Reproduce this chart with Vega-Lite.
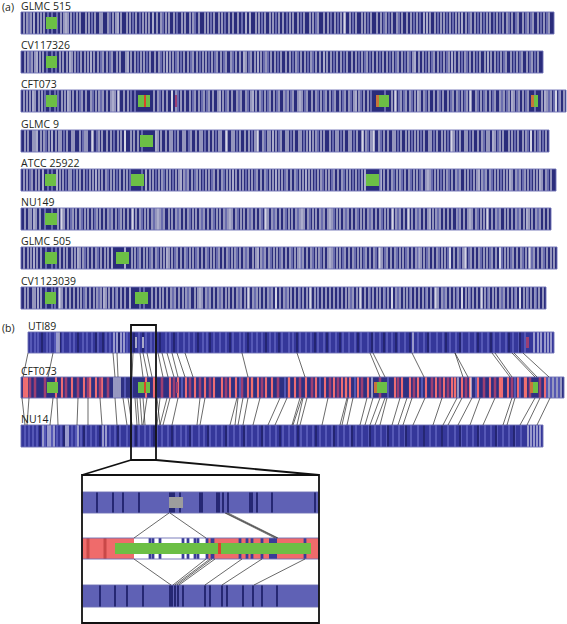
{
"$schema":"https://vega.github.io/schema/vega-lite/v6.json",
"width":567,"height":624,"padding":0,
"autosize":{"type":"fit","contains":"padding"},
"config":{"view":{"stroke":null}},
"datasets":{
"tracks":[
{"g":"a1","label":"GLMC 515","x0":21,"x1":554,"y0":12,"y1":34,"k":"base_a"},
{"g":"a2","label":"CV117326","x0":21,"x1":543,"y0":51,"y1":73,"k":"base_a"},
{"g":"a3","label":"CFT073","x0":21,"x1":566,"y0":90,"y1":112,"k":"base_a"},
{"g":"a4","label":"GLMC 9","x0":21,"x1":549,"y0":130,"y1":152,"k":"base_a"},
{"g":"a5","label":"ATCC 25922","x0":21,"x1":556,"y0":169,"y1":191,"k":"base_a"},
{"g":"a6","label":"NU149","x0":21,"x1":551,"y0":208,"y1":230,"k":"base_a"},
{"g":"a7","label":"GLMC 505","x0":21,"x1":557,"y0":247,"y1":269,"k":"base_a"},
{"g":"a8","label":"CV1123039","x0":21,"x1":546,"y0":287,"y1":309,"k":"base_a"},
{"g":"b1","label":"UTI89","x0":28,"x1":554,"y0":332,"y1":353,"k":"base_b"},
{"g":"b2","label":"CFT073","x0":21,"x1":564,"y0":377,"y1":398,"k":"base_c"},
{"g":"b3","label":"NU14","x0":21,"x1":543,"y0":425,"y1":447,"k":"base_b"},
{"g":"i1","x0":82,"x1":319,"y0":492,"y1":513,"k":"base_i"},
{"g":"i2","x0":82,"x1":319,"y0":538,"y1":559,"k":"base_r"},
{"g":"i3","x0":82,"x1":319,"y0":585,"y1":607,"k":"base_i"}
],
"regions":[
{"g":"i2","k":"w","s":134,"e":206},
{"g":"i2","k":"N","s":269,"e":277}
],
"stripes":[
{"g":"a1","k":"w","x":[24,27,31,38,41,44,61,64,68,71,77,80,86,89,95,100,102,108,113,116,121,127,130,136,143,146,149,157,161,166,169,174,182,185,190,193,199,205,208,214,219,222,229,233,238,256,259,265,270,273,279,283,290,293,298,304,310,313,318,324,328,335,341,344,350,356,362,365,371,377,381,386,392,397,402,407,411,417,430,435,441,444,450,456,459,466,471,475,481,487,490,497,503,507,512,518,523,528,533,538,544,549]},
{"g":"a1","k":"W","x":[34,66,118,153,246,250,345,424,427,462]},
{"g":"a1","k":"L","x":[29,48,52,57,74,92,110,133,140,163,177,195,211,225,242,262,276,287,301,316,331,338,353,368,384,389,399,414,420,438,447,453,469,478,484,494,500,509,516,526,531,541,547]},
{"g":"a2","k":"w","x":[25,28,32,35,40,43,60,63,67,72,75,81,85,88,94,98,103,107,112,117,120,126,131,135,141,144,150,155,159,164,170,173,178,184,188,193,197,203,206,212,217,221,226,231,236,240,246,251,255,261,266,271,275,281,286,290,296,301,305,311,316,320,327,331,337,341,347,352,356,362,367,373,377,383,387,393,398,402,408,413,419,423,429,434,438,444,449,455,459,465,470,474,480,485,491,495,501,506,511,517,522,527,532,538]},
{"g":"a2","k":"W","x":[37,70,91,128,167,244,258,324,415,452,488]},
{"g":"a2","k":"L","x":[30,47,52,56,78,101,110,138,147,161,176,181,191,200,209,215,224,233,249,264,268,278,293,298,308,313,334,344,359,365,370,380,390,396,405,410,426,432,441,447,462,467,477,498,504,514,520,530,535]},
{"g":"a3","k":"w","x":[24,27,30,35,39,42,62,65,70,73,77,82,86,91,96,99,103,107,111,115,119,124,128,154,158,163,167,172,176,181,185,190,195,199,204,209,213,218,223,228,232,237,241,246,251,256,260,265,270,274,279,284,288,293,298,302,307,312,316,321,326,330,335,340,345,349,354,359,364,368,392,396,401,406,410,415,420,424,429,434,438,443,448,453,457,462,467,471,476,481,486,490,495,500,504,509,514,519,523,528,542,547,551,556,560,564]},
{"g":"a3","k":"W","x":[33,68,113,118,172,220,253,300,356,395,418,470,512,545,556]},
{"g":"a3","k":"L","x":[45,50,55,58,80,93,101,131,135,160,178,193,202,207,226,239,248,262,268,277,286,291,305,318,324,333,343,351,361,371,385,399,404,412,426,440,451,459,465,478,484,493,502,507,517,526,535,549,554,559]},
{"g":"a4","k":"w","x":[25,28,33,35,41,44,49,56,59,61,67,72,74,80,85,87,93,99,102,107,111,118,121,125,131,134,138,158,161,166,170,172,178,183,185,191,196,200,202,209,213,219,221,227,232,234,240,245,249,255,257,263,268,270,276,281,286,288,294,299,301,307,313,316,321,324,330,336,338,344,349,351,357,362,366,371,373,379,384,388,393,395,401,406,409,415,418,424,429,431,437,442,445,451,454,460,465,467,473,478,482,487,489,495,500,503,509,512,518,523,526,531,535,540,546]},
{"g":"a4","k":"W","x":[37,52,92,125,156,226,258,273,310,363,374,452,493,531]},
{"g":"a4","k":"L","x":[46,64,83,97,114,142,175,189,205,216,237,252,265,279,291,304,318,333,341,354,368,381,398,412,421,434,448,457,470,484,498,515,528,538,543]},
{"g":"a5","k":"w","x":[24,27,32,36,39,60,63,69,71,77,80,84,90,93,99,102,106,111,114,120,124,127,150,153,159,162,167,170,176,179,184,188,192,197,200,206,209,214,218,222,227,230,236,240,243,249,252,257,261,265,270,273,279,282,287,291,295,300,303,309,312,318,321,326,329,334,338,342,347,350,356,362,384,388,392,397,400,405,409,414,417,422,426,430,435,438,444,447,452,456,460,465,468,474,477,482,486,490,495,498,504,507,512,516,520,525,528,534,537,542,546,551]},
{"g":"a5","k":"W","x":[43,57,96,146,181,233,276,306,365,381,428,479,510,540]},
{"g":"a5","k":"L","x":[30,48,52,66,74,87,108,117,130,142,156,164,173,186,195,203,212,224,246,255,267,285,297,315,323,332,344,353,359,380,394,402,411,420,432,441,449,458,471,484,492,501,518,523,531,548]},
{"g":"a6","k":"w","x":[25,29,31,36,40,58,61,64,68,73,76,80,85,88,92,97,100,104,108,112,116,121,124,128,132,136,140,145,148,152,156,160,164,169,172,176,180,184,188,193,196,200,204,208,212,217,220,224,228,232,236,241,244,248,252,256,260,265,268,272,276,280,284,289,292,296,300,304,308,313,316,320,324,328,332,337,340,344,348,352,356,361,364,368,372,376,380,385,388,392,396,400,404,409,412,416,420,424,428,433,436,440,444,448,452,457,460,464,468,472,476,481,484,488,492,496,500,505,508,512,516,520,524,529,532,536,540,544,548]},
{"g":"a6","k":"W","x":[34,62,133,158,230,266,302,330,393,408,430,470,487,527]},
{"g":"a6","k":"L","x":[45,52,71,82,95,110,119,142,154,162,178,190,202,214,226,238,250,262,274,286,298,310,322,334,346,358,370,382,398,418,438,458,478,498,518,538]},
{"g":"a7","k":"w","x":[24,28,31,37,41,60,64,67,72,75,80,83,88,92,96,101,105,108,132,135,140,144,147,152,156,161,164,169,172,177,181,185,190,193,198,202,206,211,214,219,223,227,232,235,240,244,248,253,256,261,265,269,274,277,282,286,290,295,298,303,307,311,316,319,324,328,332,337,340,345,349,353,358,361,366,370,374,379,382,387,391,395,400,403,408,412,416,421,424,429,433,437,442,445,450,454,458,463,466,471,475,479,484,487,492,496,500,505,508,513,517,521,526,529,534,538,542,547,551,554]},
{"g":"a7","k":"W","x":[34,78,112,125,167,258,300,330,380,419,450,465,500,530]},
{"g":"a7","k":"L","x":[46,52,56,85,98,138,150,158,175,187,196,208,217,229,237,246,263,271,280,292,301,313,321,334,343,355,364,376,385,397,406,418,427,439,448,460,469,481,490,502,511,523,532,544]},
{"g":"a8","k":"w","x":[25,28,33,35,41,59,62,66,70,74,78,81,86,90,94,97,101,106,109,113,117,121,125,152,156,160,163,167,171,175,179,183,186,190,195,198,202,206,210,214,218,222,226,229,233,237,241,245,249,253,257,260,264,268,272,276,280,284,288,291,295,299,303,307,311,315,318,322,326,330,334,338,342,346,349,353,357,361,365,369,373,377,380,384,388,392,396,400,404,407,411,415,419,423,427,431,435,438,442,446,450,454,458,462,466,469,473,477,481,485,489,493,496,500,504,508,512,516,520,524,527,531,535,539,543]},
{"g":"a8","k":"W","x":[38,60,104,130,200,248,276,310,360,392,436,462,482,520]},
{"g":"a8","k":"L","x":[46,52,55,84,99,116,140,144,173,188,208,220,239,255,270,286,300,318,338,351,370,385,398,410,426,444,457,470,488,502,515,528,536]},
{"g":"b1","k":"L2","x":[31,35,38,47,50,55,63,70,74,83,87,92,98,106,110,127,131,139,146,151,155,166,170,178,184,189,194,203,207,214,220,226,233,240,244,252,257,262,270,275,282,289,293,300,306,311,318,324,330,336,343,349,355,361,368,374,380,387,392,399,405,418,424,430,437,443,450,456,462,469,475,482,488,494,500,506,513,519,525]},
{"g":"b1","k":"D","x":[42,60,78,96,103,119,134,143,160,174,198,210,230,248,266,279,297,315,327,340,358,372,384,396,410,428,446,460,478,491,509,520]},
{"g":"b1","k":"w","x":[57,59,114,117,121,124,413,534,538,541,545,548,551]},
{"g":"b3","k":"L2","x":[25,29,33,37,45,52,57,61,72,76,81,86,91,96,110,115,120,127,133,139,145,150,157,162,168,175,181,186,192,199,204,210,216,222,228,234,240,246,252,258,264,270,276,283,289,295,301,307,313,320,326,332,338,344,350,356,362,369,375,381,387,393,399,405,411,418,424,430,436,442,448,455,461,467,473,479,485,491,497,503,509,515,521]},
{"g":"b3","k":"D","x":[40,64,84,100,118,136,154,172,190,208,226,244,262,280,298,316,334,352,370,388,406,424,442,460,478,496,514]},
{"g":"b3","k":"w","x":[43,48,50,54,66,68,78,103,106,528,531,534,537,540]},
{"g":"b2","k":"P","x":[24,26,56,62,72,84,96,102,146,154,170,178,186,195,205,214,222,230,236,248,258,266,272,295,306,316,325,334,342,350,358,368,395,402,410,418,426,436,444,452,462,470,478,490,502,508,518,526,545]},
{"g":"b2","k":"PW","x":[27,90,252,289,346,455,500,525]},
{"g":"b2","k":"R","x":[30,35,45,66,78,88,100,108,162,174,190,200,210,226,242,262,278,300,312,330,338,362,380,398,414,432,440,448,466,484,495,512,530,540]},
{"g":"b2","k":"w","x":[114,116,118,120,156,372,458,471,549,553,557,561]},
{"g":"b2","k":"L2","x":[125,132,182,240,285,320,355,388,422,476,515,520,547,551,555,559]},
{"g":"i1","k":"D","x":[97,113,123,139,170,172,174,180,200,202,217,219,223,228,250,252,257,272,315]},
{"g":"i3","k":"D","x":[100,115,127,143,170,172,175,178,183,205,210,222,227,243,253,262,277]},
{"g":"i2","k":"N","x":[150,153,160,183,188,195,198,207,212,213,240,247,252,262,305]},
{"g":"i2","k":"R2","x":[88,105]}
],
"blocks":[
{"g":"a1","k":"g","s":46,"e":57},
{"g":"a2","k":"g","s":46,"e":57},
{"g":"a3","k":"g","s":46,"e":57},{"g":"a3","k":"g","s":138,"e":150},{"g":"a3","k":"r","s":144,"e":146},{"g":"a3","k":"R","s":175,"e":177},{"g":"a3","k":"o","s":376,"e":379},{"g":"a3","k":"g","s":379,"e":389},{"g":"a3","k":"o","s":531,"e":534},{"g":"a3","k":"g","s":534,"e":538},
{"g":"a4","k":"g","s":140,"e":153},
{"g":"a5","k":"g","s":45,"e":56},{"g":"a5","k":"g","s":131,"e":144},{"g":"a5","k":"g","s":366,"e":379},
{"g":"a6","k":"g","s":45,"e":57},
{"g":"a7","k":"g","s":45,"e":57},{"g":"a7","k":"g","s":116,"e":129},
{"g":"a8","k":"g","s":45,"e":56},{"g":"a8","k":"g","s":135,"e":148},
{"g":"b1","k":"gr","s":135,"e":137},{"g":"b1","k":"gr","s":142,"e":144},{"g":"b1","k":"R","s":526,"e":529},
{"g":"b2","k":"g","s":47,"e":58},{"g":"b2","k":"g","s":138,"e":150},{"g":"b2","k":"r","s":144,"e":146},{"g":"b2","k":"R","s":176,"e":178},{"g":"b2","k":"o","s":374,"e":377},{"g":"b2","k":"g","s":377,"e":387},{"g":"b2","k":"o","s":530,"e":533},{"g":"b2","k":"g","s":533,"e":538},
{"g":"i1","k":"gray","s":169,"e":183},
{"g":"i2","k":"g","s":115,"e":311},{"g":"i2","k":"r","s":218,"e":221}
],
"links":[
{"f":"b1","t":"b2","a":28,"b":23},{"f":"b1","t":"b2","a":53,"b":48},{"f":"b1","t":"b2","a":113,"b":115},{"f":"b1","t":"b2","a":117,"b":118},{"f":"b1","t":"b2","a":133,"b":132},{"f":"b1","t":"b2","a":140,"b":143},{"f":"b1","t":"b2","a":143,"b":148},{"f":"b1","t":"b2","a":147,"b":152},{"f":"b1","t":"b2","a":158,"b":163},{"f":"b1","t":"b2","a":162,"b":168},{"f":"b1","t":"b2","a":167,"b":174},{"f":"b1","t":"b2","a":172,"b":178},{"f":"b1","t":"b2","a":177,"b":185},{"f":"b1","t":"b2","a":185,"b":193},{"f":"b1","t":"b2","a":242,"b":248},{"f":"b1","t":"b2","a":297,"b":305},{"f":"b1","t":"b2","a":370,"b":380},{"f":"b1","t":"b2","a":373,"b":385},{"f":"b1","t":"b2","a":412,"b":424},{"f":"b1","t":"b2","a":455,"b":463},{"f":"b1","t":"b2","a":455,"b":468},{"f":"b1","t":"b2","a":492,"b":510},{"f":"b1","t":"b2","a":495,"b":512},{"f":"b1","t":"b2","a":512,"b":535},{"f":"b1","t":"b2","a":514,"b":537},{"f":"b1","t":"b2","a":523,"b":549},
{"f":"b2","t":"b3","a":22,"b":25},{"f":"b2","t":"b3","a":29,"b":27},{"f":"b2","t":"b3","a":53,"b":50},{"f":"b2","t":"b3","a":57,"b":58},{"f":"b2","t":"b3","a":78,"b":77},{"f":"b2","t":"b3","a":88,"b":88},{"f":"b2","t":"b3","a":100,"b":102},{"f":"b2","t":"b3","a":115,"b":117},{"f":"b2","t":"b3","a":123,"b":127},{"f":"b2","t":"b3","a":128,"b":132},{"f":"b2","t":"b3","a":135,"b":137},{"f":"b2","t":"b3","a":137,"b":139},{"f":"b2","t":"b3","a":140,"b":142},{"f":"b2","t":"b3","a":143,"b":145},{"f":"b2","t":"b3","a":147,"b":143},{"f":"b2","t":"b3","a":157,"b":160},{"f":"b2","t":"b3","a":160,"b":157},{"f":"b2","t":"b3","a":167,"b":160},{"f":"b2","t":"b3","a":170,"b":163},{"f":"b2","t":"b3","a":178,"b":172},{"f":"b2","t":"b3","a":200,"b":197},{"f":"b2","t":"b3","a":205,"b":200},{"f":"b2","t":"b3","a":237,"b":230},{"f":"b2","t":"b3","a":238,"b":235},{"f":"b2","t":"b3","a":243,"b":238},{"f":"b2","t":"b3","a":248,"b":243},{"f":"b2","t":"b3","a":260,"b":253},{"f":"b2","t":"b3","a":280,"b":268},{"f":"b2","t":"b3","a":287,"b":275},{"f":"b2","t":"b3","a":300,"b":292},{"f":"b2","t":"b3","a":302,"b":293},{"f":"b2","t":"b3","a":303,"b":297},{"f":"b2","t":"b3","a":307,"b":300},{"f":"b2","t":"b3","a":328,"b":322},{"f":"b2","t":"b3","a":347,"b":340},{"f":"b2","t":"b3","a":348,"b":342},{"f":"b2","t":"b3","a":353,"b":347},{"f":"b2","t":"b3","a":367,"b":360},{"f":"b2","t":"b3","a":373,"b":365},{"f":"b2","t":"b3","a":380,"b":370},{"f":"b2","t":"b3","a":385,"b":375},{"f":"b2","t":"b3","a":387,"b":380},{"f":"b2","t":"b3","a":400,"b":392},{"f":"b2","t":"b3","a":407,"b":398},{"f":"b2","t":"b3","a":412,"b":403},{"f":"b2","t":"b3","a":425,"b":413},{"f":"b2","t":"b3","a":442,"b":433},{"f":"b2","t":"b3","a":457,"b":443},{"f":"b2","t":"b3","a":462,"b":448},{"f":"b2","t":"b3","a":472,"b":458},{"f":"b2","t":"b3","a":480,"b":470},{"f":"b2","t":"b3","a":495,"b":483},{"f":"b2","t":"b3","a":512,"b":503},{"f":"b2","t":"b3","a":515,"b":507},{"f":"b2","t":"b3","a":535,"b":520},{"f":"b2","t":"b3","a":540,"b":527},{"f":"b2","t":"b3","a":550,"b":537},
{"f":"i1","t":"i2","a":169,"b":134},{"f":"i1","t":"i2","a":170,"b":206},{"f":"i1","t":"i2","a":225,"b":275},{"f":"i1","t":"i2","a":226,"b":277},{"f":"i1","t":"i2","a":228,"b":278},
{"f":"i2","t":"i3","a":134,"b":171},{"f":"i2","t":"i3","a":206,"b":173},{"f":"i2","t":"i3","a":210,"b":175},{"f":"i2","t":"i3","a":212,"b":177},{"f":"i2","t":"i3","a":215,"b":179},{"f":"i2","t":"i3","a":242,"b":205},{"f":"i2","t":"i3","a":262,"b":222},{"f":"i2","t":"i3","a":305,"b":254}
],
"frames":[{"x0":131,"x1":156,"y0":325,"y1":460},{"x0":82,"x1":319,"y0":475,"y1":623}],
"callout":[{"a":131,"ya":460,"b":82,"yb":475},{"a":156,"ya":460,"b":319,"yb":475}],
"panels":[{"t":"(a)","x":2,"y":11},{"t":"(b)","x":2,"y":332}]
},
"layer":[
{"data":{"name":"tracks"},"mark":{"type":"rect"},
 "encoding":{"x":{"field":"x0","type":"quantitative","scale":{"domain":[0,567],"nice":false,"zero":false},"axis":null},"x2":{"field":"x1"},
 "y":{"field":"y0","type":"quantitative","scale":{"domain":[0,624],"nice":false,"zero":false,"reverse":true},"axis":null},"y2":{"field":"y1"},
 "color":{"field":"k","type":"nominal","legend":null,"scale":{"domain":["base_a","base_b","base_c","base_i","base_r","w","W","L","L2","D","P","PW","R","N","R2","g","r","o","gr","gray"],"range":["#2a2c7b","#35379a","#2e3082","#5f61b5","#ef6b6b","#ffffff","#ffffff","#8587c2","#5d5fbd","#232570","#ee6c74","#f2706f","#9c3f72","#3a3c98","#c94848","#6cbf45","#d8452a","#c8743a","#a9a9c8","#9d9d9d"]}}}},
{"data":{"name":"regions"},"transform":[{"lookup":"g","from":{"data":{"name":"tracks"},"key":"g","fields":["y0","y1"]}}],"mark":{"type":"rect"},
 "encoding":{"x":{"field":"s","type":"quantitative","axis":null},"x2":{"field":"e"},"y":{"field":"y0","type":"quantitative","axis":null},"y2":{"field":"y1"},"color":{"field":"k","type":"nominal","legend":null}}},
{"data":{"name":"stripes"},"transform":[{"flatten":["x"]},{"lookup":"g","from":{"data":{"name":"tracks"},"key":"g","fields":["y0","y1"]}}],"mark":{"type":"rule"},
 "encoding":{"x":{"field":"x","type":"quantitative","axis":null},"y":{"field":"y0","type":"quantitative","axis":null},"y2":{"field":"y1"},"color":{"field":"k","type":"nominal","legend":null},
 "strokeWidth":{"field":"k","type":"nominal","legend":null,"scale":{"domain":["w","W","L","L2","D","P","PW","R","N","R2"],"range":[1,3,1.3,1.6,1.2,1.6,3.5,1.4,1.1,1.1]}}}},
{"data":{"name":"blocks"},"transform":[{"lookup":"g","from":{"data":{"name":"tracks"},"key":"g","fields":["y0","y1"]}}],"mark":{"type":"rect","yOffset":5,"y2Offset":-5},
 "encoding":{"x":{"field":"s","type":"quantitative","axis":null},"x2":{"field":"e"},"y":{"field":"y0","type":"quantitative","axis":null},"y2":{"field":"y1"},"color":{"field":"k","type":"nominal","legend":null}}},
{"data":{"name":"tracks"},"mark":{"type":"rect","fill":null,"fillOpacity":0,"stroke":"#6d70b4","strokeWidth":0.9},
 "encoding":{"x":{"field":"x0","type":"quantitative","axis":null},"x2":{"field":"x1"},"y":{"field":"y0","type":"quantitative","axis":null},"y2":{"field":"y1"}}},
{"data":{"name":"links"},"transform":[{"lookup":"f","from":{"data":{"name":"tracks"},"key":"g","fields":["y1"]},"as":["ya"]},{"lookup":"t","from":{"data":{"name":"tracks"},"key":"g","fields":["y0"]},"as":["yb"]}],
 "mark":{"type":"rule","color":"#2a2a2a","strokeWidth":0.7},
 "encoding":{"x":{"field":"a","type":"quantitative","axis":null},"x2":{"field":"b"},"y":{"field":"ya","type":"quantitative","axis":null},"y2":{"field":"yb"}}},
{"data":{"name":"frames"},"mark":{"type":"rect","fill":null,"fillOpacity":0,"stroke":"#111111","strokeWidth":1.8},
 "encoding":{"x":{"field":"x0","type":"quantitative","axis":null},"x2":{"field":"x1"},"y":{"field":"y0","type":"quantitative","axis":null},"y2":{"field":"y1"}}},
{"data":{"name":"callout"},"mark":{"type":"rule","color":"#111111","strokeWidth":1.8},
 "encoding":{"x":{"field":"a","type":"quantitative","axis":null},"x2":{"field":"b"},"y":{"field":"ya","type":"quantitative","axis":null},"y2":{"field":"yb"}}},
{"data":{"name":"tracks"},"transform":[{"filter":"datum.label"}],"mark":{"type":"text","align":"left","baseline":"alphabetic","dy":-2.5,"font":"Open Sans","fontSize":10.5,"color":"#231f20"},
 "encoding":{"x":{"field":"x0","type":"quantitative","axis":null},"y":{"field":"y0","type":"quantitative","axis":null},"text":{"field":"label"}}},
{"data":{"name":"panels"},"mark":{"type":"text","align":"left","baseline":"alphabetic","font":"Open Sans","fontSize":10.5,"color":"#231f20"},
 "encoding":{"x":{"field":"x","type":"quantitative","axis":null},"y":{"field":"y","type":"quantitative","axis":null},"text":{"field":"t"}}}
]
}
